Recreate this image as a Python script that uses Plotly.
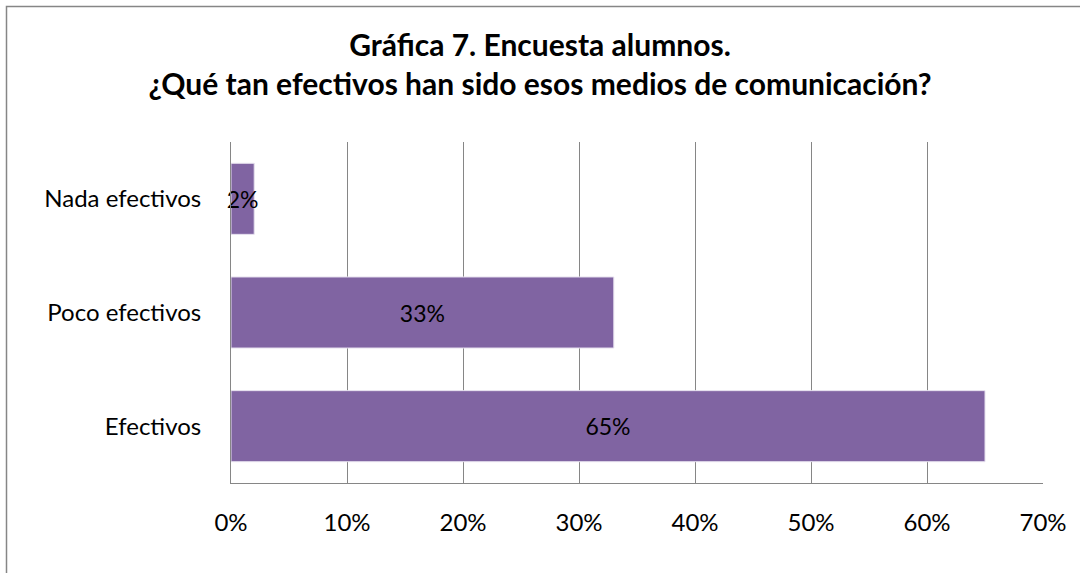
import plotly.graph_objects as go

categories = ["Efectivos", "Poco efectivos", "Nada efectivos"]
values = [0.65, 0.33, 0.02]
labels = ["65%", "33%", "2%"]
tick_vals = [0, 0.1, 0.2, 0.3, 0.4, 0.5, 0.6, 0.7]
tick_text = ["0%", "10%", "20%", "30%", "40%", "50%", "60%", "70%"]
title_text = "Gráfica 7. Encuesta alumnos.<br>¿Qué tan efectivos han sido esos medios de comunicación?"

FONT = "Lato"
W, H = 1080, 573
L, T = 231, 142
R, B = W - 1043, H - 483
pw, ph = W - L - R, H - T - B

fig = go.Figure()
fig.add_trace(go.Bar(
    y=categories, x=values, orientation="h",
    marker=dict(color="#8064A2", line=dict(color="#E6E0EE", width=1)),
    text=labels, textposition="inside", insidetextanchor="middle",
    textangle=0, constraintext="none", cliponaxis=False,
    textfont=dict(family=FONT, size=23, color="black"),
    hoverinfo="skip",
))

def px2x(p):
    return (p - L) / pw

def py2y(p):
    return (H - B - p) / ph

fig.update_layout(
    width=W, height=H,
    margin=dict(l=L, r=R, t=T, b=B, autoexpand=False),
    paper_bgcolor="white", plot_bgcolor="white",
    bargap=0.375,
    showlegend=False,
    title=dict(text=title_text, x=540 / W, xref="container", xanchor="center",
               y=1 - 56 / H, yanchor="middle", yref="container",
               font=dict(family=FONT, size=30, color="black", weight="bold")),
    xaxis=dict(range=[0, 0.7], tickvals=tick_vals, ticktext=tick_text,
               showgrid=True, gridcolor="#868686", gridwidth=1,
               showline=True, linecolor="#868686", linewidth=1,
               mirror=False, zeroline=False, ticks="", automargin=False,
               ticklabelstandoff=18,
               tickfont=dict(family=FONT, size=24, color="black")),
    yaxis=dict(showgrid=False, showline=True, linecolor="#868686", linewidth=1,
               ticks="", ticklabelstandoff=24, automargin=False,
               tickfont=dict(family=FONT, size=24, color="black")),
    shapes=[dict(type="rect", xref="paper", yref="paper",
                 x0=px2x(6.5), x1=px2x(1100), y0=py2y(600), y1=py2y(6.5),
                 line=dict(color="#868686", width=1.5), fillcolor="rgba(0,0,0,0)",
                 layer="below")],
)

fig.write_html("out.html", config={"displayModeBar": False},
               post_script="document.body.style.margin='0px';")
